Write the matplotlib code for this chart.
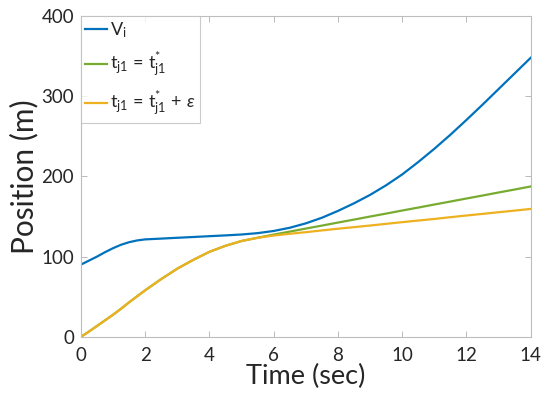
import numpy as np
import matplotlib
matplotlib.use("Agg")
import matplotlib.pyplot as plt

plt.rcParams['font.family'] = ['Lato', 'DejaVu Sans']
plt.rcParams['mathtext.fontset'] = 'custom'
plt.rcParams['mathtext.rm'] = 'Lato'
plt.rcParams['mathtext.it'] = 'Lato:italic'

time_s = [0, 0.25, 0.5, 0.75, 1, 1.25, 1.5, 1.75, 2, 2.5, 3, 3.5, 4, 4.5,
          5, 5.5, 6, 6.5, 7, 7.5, 8, 8.5, 9, 9.5, 10, 10.5, 11, 11.5, 12,
          12.5, 13, 13.5, 14]

pos_vi = [90, 95, 100, 105.5, 110.5, 114.8, 118, 120.2, 121.5, 122.5,
          123.5, 124.5, 125.5, 126.5, 127.6, 129.3, 132, 136, 141.5, 148.5,
          157, 166.5, 177, 189, 202.5, 218, 234.5, 252, 270.5, 289.5, 309,
          328.5, 348]

pos_opt = [0, 6.5, 13.5, 20.5, 27.5, 35, 43, 50.5, 58, 72, 85, 96, 106,
           113.5, 119.5, 123.5, 127.5, 131.2, 135, 138.7, 142.5, 146.2, 150,
           153.7, 157.5, 161.2, 165, 168.7, 172.5, 176.2, 180, 183.7, 187.5]

pos_eps = [0, 6.5, 13.5, 20.5, 27.5, 35, 43, 50.5, 58, 72, 85, 96, 106,
           113.5, 119.5, 123.5, 126.3, 128.5, 130.5, 132.7, 134.8, 136.8,
           138.8, 140.9, 143, 145, 147, 149.2, 151.3, 153.3, 155.4, 157.4,
           159.5]

labels = [r'$\mathrm{V_i}$',
          r'$\mathrm{t_{j1}}\,=\,\mathrm{t^{*}_{j1}}$',
          r'$\mathrm{t_{j1}}\,=\,\mathrm{t^{*}_{j1}}\,+\,\varepsilon$']
colors = ['#0072BD', '#77AC30', '#EDB120']

x_ticks = [0, 2, 4, 6, 8, 10, 12, 14]
y_ticks = [0, 100, 200, 300, 400]

fig = plt.figure(figsize=(5.5, 4.01), dpi=100)
ax = fig.add_axes([0.147, 0.160, 0.818, 0.800])

for ys, lab, c in zip([pos_vi, pos_opt, pos_eps], labels, colors):
    ax.plot(time_s, ys, color=c, lw=1.6, label=lab)

ax.set_xlim(0, 14)
ax.set_ylim(0, 400)
ax.set_xticks(x_ticks)
ax.set_yticks(y_ticks)
ax.tick_params(direction='in', length=4, width=0.6, color='#b0b0b0',
               labelsize=13.5, labelcolor='#262626',
               top=True, right=True)
ax.tick_params(axis='x', pad=7)
ax.tick_params(axis='y', pad=5)
for sp in ax.spines.values():
    sp.set_color('#bdbdbd')
    sp.set_linewidth(0.8)

ax.set_xlabel('Time (sec)', fontsize=19.5, color='#262626', labelpad=0)
ax.set_ylabel('Position (m)', fontsize=21.5, color='#262626', labelpad=2)

leg = ax.legend(loc='upper left', bbox_to_anchor=(0, 1), borderaxespad=0,
                fontsize=13, frameon=True, fancybox=False,
                handlelength=1.2, handletextpad=0.15, borderpad=0.25,
                labelspacing=0.6)
leg.get_frame().set_edgecolor('#bdbdbd')
leg.get_frame().set_linewidth(0.8)
for t in leg.get_texts():
    t.set_color('#262626')

fig.savefig('out.png', dpi=100)
